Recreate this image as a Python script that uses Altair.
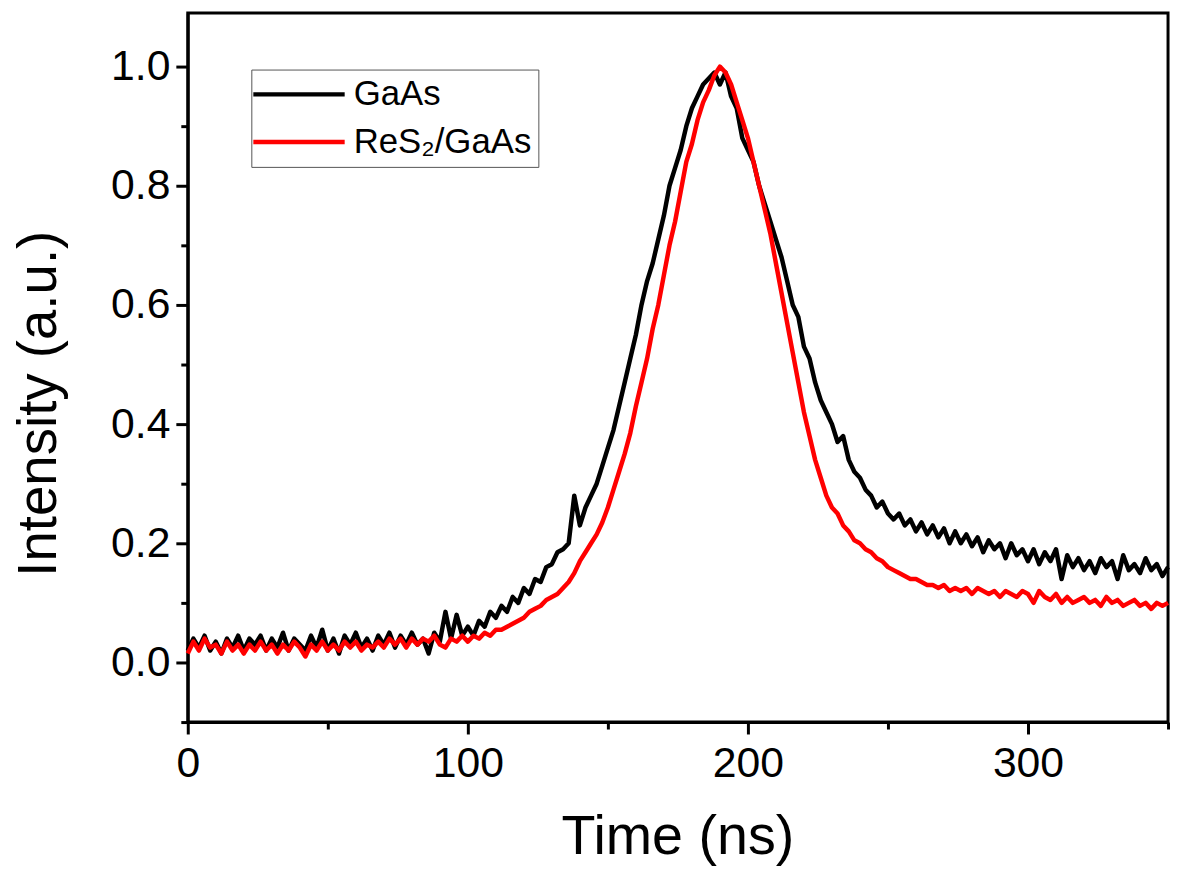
import altair as alt
import pandas as pd

# ---------------- data ----------------
time_ns = list(range(0, 351, 2))

gaas = [
    0.02, 0.04, 0.025, 0.045, 0.02, 0.035, 0.015, 0.04, 0.025, 0.045,      # 0-18
    0.02, 0.04, 0.03, 0.045, 0.02, 0.04, 0.025, 0.05, 0.02, 0.04,          # 20-38
    0.03, 0.02, 0.045, 0.025, 0.055, 0.02, 0.04, 0.015, 0.045, 0.03,       # 40-58
    0.05, 0.025, 0.04, 0.02, 0.045, 0.03, 0.05, 0.025, 0.045, 0.03,        # 60-78
    0.05, 0.03, 0.04, 0.015, 0.05, 0.035, 0.085, 0.04, 0.08, 0.045,        # 80-98
    0.06, 0.045, 0.07, 0.06, 0.085, 0.075, 0.095, 0.085, 0.11, 0.10,       # 100-118
    0.125, 0.115, 0.14, 0.135, 0.16, 0.165, 0.185, 0.19, 0.20, 0.28,       # 120-138
    0.23, 0.26, 0.28, 0.30, 0.33, 0.36, 0.39, 0.43, 0.47, 0.51,            # 140-158
    0.55, 0.60, 0.64, 0.67, 0.71, 0.75, 0.80, 0.83, 0.86, 0.90,            # 160-178
    0.93, 0.95, 0.97, 0.98, 0.99, 0.97, 0.99, 0.95, 0.93, 0.88,            # 180-198
    0.86, 0.84, 0.80, 0.77, 0.74, 0.71, 0.68, 0.64, 0.60, 0.58,            # 200-218
    0.53, 0.51, 0.47, 0.44, 0.42, 0.40, 0.37, 0.38, 0.34, 0.32,            # 220-238
    0.31, 0.29, 0.28, 0.26, 0.27, 0.25, 0.24, 0.25, 0.23, 0.24,            # 240-258
    0.22, 0.235, 0.215, 0.23, 0.21, 0.225, 0.20, 0.22, 0.20, 0.215,        # 260-278
    0.195, 0.21, 0.185, 0.205, 0.19, 0.20, 0.175, 0.20, 0.18, 0.19,        # 280-298
    0.17, 0.19, 0.165, 0.185, 0.17, 0.19, 0.14, 0.18, 0.16, 0.175,         # 300-318
    0.155, 0.17, 0.15, 0.175, 0.16, 0.17, 0.14, 0.18, 0.155, 0.165,        # 320-338
    0.15, 0.175, 0.155, 0.165, 0.145, 0.16,                                # 340-350
]

res2_gaas = [
    0.015, 0.035, 0.02, 0.04, 0.025, 0.03, 0.015, 0.035, 0.02, 0.03,       # 0-18
    0.015, 0.03, 0.02, 0.035, 0.02, 0.03, 0.015, 0.03, 0.02, 0.035,        # 20-38
    0.025, 0.01, 0.03, 0.02, 0.035, 0.02, 0.03, 0.02, 0.035, 0.025,        # 40-58
    0.035, 0.02, 0.03, 0.025, 0.035, 0.025, 0.04, 0.03, 0.04, 0.025,       # 60-78
    0.04, 0.03, 0.04, 0.035, 0.045, 0.03, 0.025, 0.04, 0.035, 0.045,       # 80-98
    0.035, 0.045, 0.04, 0.05, 0.045, 0.055, 0.055, 0.06, 0.065, 0.07,      # 100-118
    0.075, 0.085, 0.09, 0.095, 0.105, 0.11, 0.115, 0.125, 0.135, 0.15,     # 120-138
    0.17, 0.185, 0.20, 0.215, 0.235, 0.26, 0.29, 0.32, 0.35, 0.385,        # 140-158
    0.43, 0.47, 0.51, 0.56, 0.60, 0.65, 0.70, 0.74, 0.79, 0.84,            # 160-178
    0.87, 0.91, 0.94, 0.96, 0.985, 1.0, 0.99, 0.97, 0.94, 0.91,            # 180-198
    0.88, 0.84, 0.80, 0.76, 0.72, 0.67, 0.62, 0.57, 0.52, 0.47,            # 200-218
    0.42, 0.38, 0.34, 0.31, 0.28, 0.26, 0.25, 0.23, 0.22, 0.205,           # 220-238
    0.20, 0.19, 0.185, 0.175, 0.17, 0.16, 0.155, 0.15, 0.145, 0.14,        # 240-258
    0.14, 0.135, 0.13, 0.13, 0.125, 0.13, 0.12, 0.125, 0.12, 0.125,        # 260-278
    0.115, 0.125, 0.12, 0.115, 0.12, 0.11, 0.12, 0.115, 0.11, 0.12,        # 280-298
    0.115, 0.10, 0.12, 0.11, 0.105, 0.115, 0.10, 0.11, 0.10, 0.105,        # 300-318
    0.11, 0.10, 0.105, 0.095, 0.11, 0.10, 0.105, 0.095, 0.10, 0.105,       # 320-338
    0.095, 0.10, 0.09, 0.10, 0.095, 0.10,                                  # 340-350
]

series_names = ["GaAs", "ReS\u2082/GaAs"]
series_colors = ["#000000", "#ff0000"]

x_tick_values = [0, 50, 100, 150, 200, 250, 300, 350]
y_tick_values = [-0.1, 0.0, 0.1, 0.2, 0.3, 0.4, 0.5, 0.6, 0.7, 0.8, 0.9, 1.0]

n = len(time_ns)
df = pd.DataFrame({
    "time": time_ns + time_ns,
    "intensity": gaas[:n] + res2_gaas[:n],
    "series": [series_names[0]] * n + [series_names[1]] * n,
})

FONT = "Liberation Sans"

x_enc = alt.X(
    "time:Q",
    scale=alt.Scale(domain=[0, 350], nice=False, zero=False),
    axis=alt.Axis(
        values=x_tick_values,
        title="Time (ns)",
        labelExpr="datum.value % 100 == 0 ? datum.label : ''",
        tickSize={"condition": {"test": "datum.value % 100 == 0", "value": 12}, "value": 7},
        labelPadding=9,
        labelFlush=False,
        labelOverlap=False,
        labelBaseline="top",
        titleX=493,
        titleY=132,
        titleFontSize=56,
        titleBaseline="alphabetic",
    ),
)

y_enc = alt.Y(
    "intensity:Q",
    scale=alt.Scale(domain=[-0.1, 1.09], nice=False, zero=False),
    axis=alt.Axis(
        values=y_tick_values,
        format=".1f",
        title="Intensity (a.u.)",
        labelExpr="round(datum.value * 10) % 2 == 0 ? datum.label : ''",
        tickSize={"condition": {"test": "round(datum.value * 10) % 2 == 0", "value": 12}, "value": 7},
        labelPadding=6,
        labelFlush=False,
        labelOverlap=False,
        titleX=-133,
        titleY=393,
        titleAngle=270,
        titleFontSize=55,
        titleBaseline="alphabetic",
        titleAlign="center",
    ),
)

color_enc = alt.Color(
    "series:N",
    scale=alt.Scale(domain=series_names, range=series_colors),
    legend=alt.Legend(
        title=None,
        orient="none",
        legendX=64,
        legendY=57,
        symbolType="M-3,0H3",
        symbolSize=940,
        symbolStrokeWidth=4.5,
        symbolOffset=23,
        labelOffset=37,
        labelFont=FONT,
        labelFontSize=35,
        labelColor="#000000",
        labelLimit=400,
        strokeColor="#555555",
        fillColor="#ffffff",
        padding=7,
        rowPadding=12,
    ),
)

base = alt.Chart(df).mark_line(strokeWidth=4.5, strokeJoin="round")

black = base.transform_filter(alt.datum.series == series_names[0]).encode(
    x=x_enc, y=y_enc, color=color_enc
)
red = base.transform_filter(alt.datum.series == series_names[1]).encode(
    x=x_enc, y=y_enc, color=color_enc
)

chart = (
    alt.layer(black, red)
    .properties(
        width=987,
        height=714,
        padding={"left": 181, "top": 2, "right": 5, "bottom": 150},
        autosize=alt.AutoSizeParams(type="none"),
        background="#ffffff",
    )
    .configure_view(stroke="#000000", strokeWidth=3)
    .configure_axis(
        grid=False,
        domainColor="#000000",
        domainWidth=3,
        tickColor="#000000",
        tickWidth=3,
        labelFont=FONT,
        labelFontSize=43,
        labelColor="#000000",
        titleFont=FONT,
        titleFontWeight="normal",
        titleColor="#000000",
    )
)

chart.save("out.html", embed_options={"renderer": "svg", "actions": False})
